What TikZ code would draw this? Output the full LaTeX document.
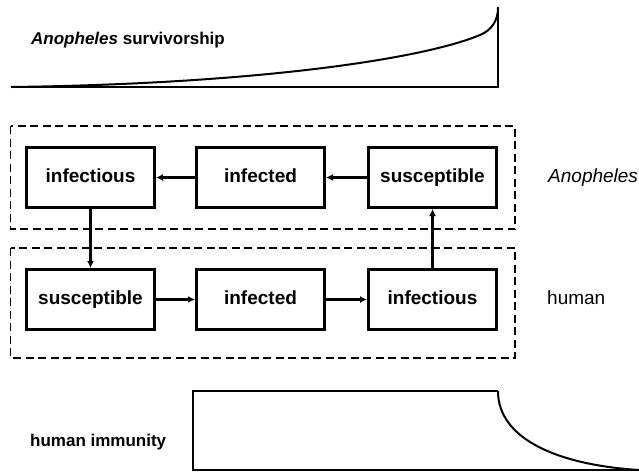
\documentclass[tikz,border=0pt]{standalone}
\usepackage{fontspec}
\setmainfont{Liberation Sans}
\usetikzlibrary{arrows.meta}

\tikzset{
  stage/.style={draw, line width=3pt, minimum width=128pt, minimum height=60pt,
    inner sep=0pt, text height=14pt, text depth=4pt,
    font=\fontsize{19}{22}\selectfont\bfseries},
  flow/.style={line width=2.4pt, -{Latex[length=7pt,width=7pt]}},
  group/.style={line width=1.8pt, dash pattern=on 8pt off 4.5pt},
  side/.style={anchor=west, inner sep=0pt, text height=14pt, text depth=4pt,
    font=\fontsize{19}{22}\selectfont},
  title/.style={anchor=west, inner sep=0pt, text height=13pt, text depth=4pt,
    font=\fontsize{17}{20}\selectfont\bfseries},
  curve/.style={line width=2pt, line join=miter}
}

\begin{document}
\begin{tikzpicture}[x=1pt, y=-1pt]

  % Fix the page to the size of the picture
  \useasboundingbox (0,0) rectangle (639,475);

  % Survivorship curve of the mosquito
  \node[title] (survtitle) at (31,40) {\textit{Anopheles} survivorship};
  \draw[curve] (11,87) -- (498,87) -- (498,7);
  \draw[curve] (11,87) .. controls (250,84) and (420,60) .. (480,35)
    .. controls (492,30) and (498,20) .. (498,8);

  % Dashed boxes round the two populations
  \draw[group] (10.5,126) rectangle (515,229);
  \draw[group] (10.5,248) rectangle (515,358);

  % Anopheles row
  \node[stage] (minfectious) at (90.5,177.5) {infectious};
  \node[stage] (minfected) at (260.5,177.5) {infected};
  \node[stage] (msusceptible) at (432.5,177.5) {susceptible};

  % Human row
  \node[stage] (hsusceptible) at (90.5,299.5) {susceptible};
  \node[stage] (hinfected) at (260.5,299.5) {infected};
  \node[stage] (hinfectious) at (432.5,299.5) {infectious};

  % Labels for the rows
  \node[side] (mlabel) at (548,177.5) {\itshape Anopheles};
  \node[side] (hlabel) at (547,299.5) {human};

  % Transitions
  \draw[flow] (msusceptible) -- (minfected);
  \draw[flow] (minfected) -- (minfectious);
  \draw[flow] (minfectious) -- (hsusceptible);
  \draw[flow] (hsusceptible) -- (hinfected);
  \draw[flow] (hinfected) -- (hinfectious);
  \draw[flow] (hinfectious) -- (msusceptible);

  % Immunity curve of the human
  \node[title] (immtitle) at (30,442) {human immunity};
  \draw[curve] (498,391) -- (193,391) -- (193,470) -- (639,470);
  \draw[curve] (498,391) .. controls (498,440) and (560,465) .. (639,470);

\end{tikzpicture}
\end{document}
